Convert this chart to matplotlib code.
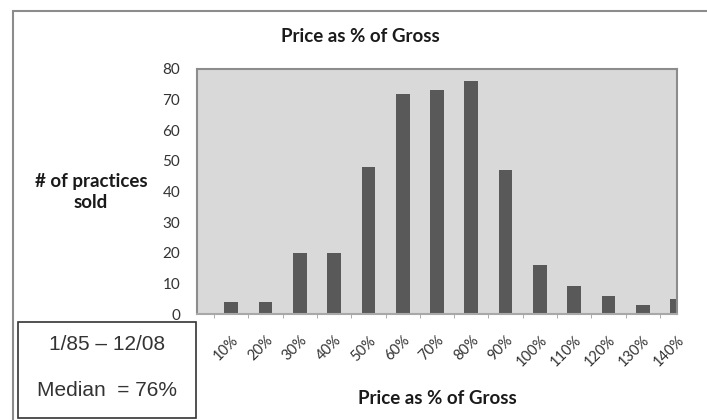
import numpy as np
import matplotlib
matplotlib.use("Agg")
import matplotlib.pyplot as plt
from matplotlib.patches import Rectangle

# data
categories = ['10%', '20%', '30%', '40%', '50%', '60%', '70%',
              '80%', '90%', '100%', '110%', '120%', '130%', '140%']
practices_sold = [4, 4, 20, 20, 48, 72, 73, 76, 47, 16, 9, 6, 3, 5]
y_ticks = [0, 10, 20, 30, 40, 50, 60, 70, 80]

head_font = ['Lato', 'DejaVu Sans']
box_font = ['Liberation Sans', 'DejaVu Sans']

fig = plt.figure(figsize=(7.07, 4.2), dpi=100)
fig.patch.set_facecolor('white')

# outer chart frame (left and top edges visible)
fig.patches.append(Rectangle((13 / 707, -0.1), 1.2, 1 - 11 / 420 + 0.1,
                             transform=fig.transFigure, fill=False,
                             edgecolor='#8c8c8c', lw=1.5, zorder=0))

ax = fig.add_axes([197 / 707, 1 - 314 / 420, 480 / 707, 245 / 420])
ax.set_facecolor('#d9d9d9')

x = np.arange(len(categories))
ax.bar(x, practices_sold, width=0.4, color='#595959', zorder=2)

ax.set_xlim(-1, len(categories) - 1)
ax.set_ylim(0, 80)
ax.set_yticks(y_ticks)
ax.tick_params(axis='y', length=0, pad=12, labelsize=11, labelcolor='#333333')
for lbl in ax.get_yticklabels():
    lbl.set_family(head_font)

ax.set_xticks(x)
ax.set_xticklabels(categories, rotation=45, ha='right', va='top',
                   rotation_mode='anchor', fontsize=10.5, color='#333333',
                   family=head_font)
ax.tick_params(axis='x', which='major', length=0, pad=14)
ax.set_xticks(x - 0.5, minor=True)
ax.tick_params(axis='x', which='minor', length=3, color='#a0a0a0', direction='out')

for side in ['top', 'left', 'right']:
    ax.spines[side].set_color('#8c8c8c')
    ax.spines[side].set_linewidth(1.5)
ax.spines['bottom'].set_color('#a8a8a8')
ax.spines['bottom'].set_linewidth(1.5)

fig.text(360 / 707, 1 - 37 / 420, 'Price as % of Gross', ha='center', va='center',
         fontsize=13.5, fontweight='bold', family=head_font, color='#1a1a1a')
fig.text(91 / 707, 1 - 192 / 420, '# of practices\nsold', ha='center', va='center',
         fontsize=13.5, fontweight='bold', family=head_font, color='#1a1a1a',
         linespacing=1.25)
fig.text(437 / 707, 1 - 398 / 420, 'Price as % of Gross', ha='center', va='center',
         fontsize=13.5, fontweight='bold', family=head_font, color='#1a1a1a')

# date range / median box
fig.patches.append(Rectangle((18 / 707, 1 - 418 / 420), 178 / 707, 96 / 420,
                             transform=fig.transFigure, facecolor='white',
                             edgecolor='#333333', lw=1.2, zorder=3))
fig.text(107 / 707, 1 - 345 / 420, '1/85 \u2013 12/08', ha='center', va='center',
         fontsize=15, family=box_font, color='#333333', zorder=4)
fig.text(107 / 707, 1 - 391 / 420, 'Median  = 76%', ha='center', va='center',
         fontsize=15, family=box_font, color='#333333', zorder=4)

fig.savefig('out.png', dpi=100)
